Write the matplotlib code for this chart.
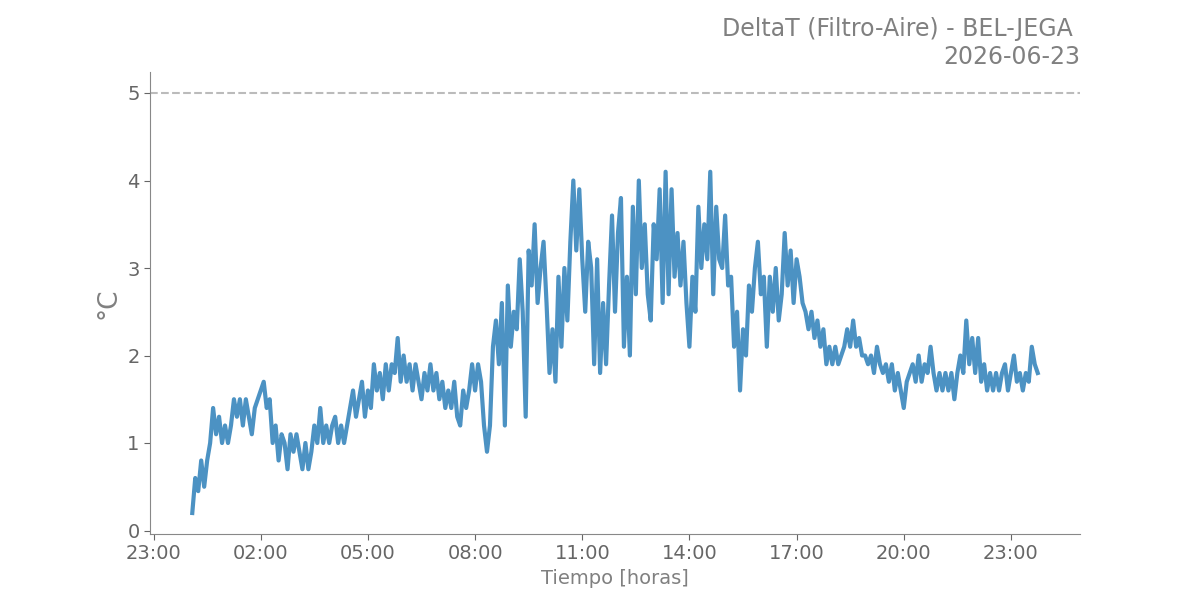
import matplotlib
matplotlib.use("Agg")
import matplotlib.pyplot as plt
import matplotlib.dates as mdates
import numpy as np
import pandas as pd

# 5-minute readings of DeltaT (Filtro-Aire), one row per hour
h00 = [0.2, 0.6, 0.45, 0.8, 0.5, 0.8, 1.0, 1.4, 1.1, 1.3, 1.0]
h01 = [1.2, 1.0, 1.2, 1.5, 1.3, 1.5, 1.2, 1.5, 1.3, 1.1, 1.4, 1.5]
h02 = [1.6, 1.7, 1.4, 1.5, 1.0, 1.2, 0.8, 1.1, 1.0, 0.7, 1.1, 0.9]
h03 = [1.1, 0.9, 0.7, 1.0, 0.7, 0.9, 1.2, 1.0, 1.4, 1.0, 1.2, 1.0]
h04 = [1.2, 1.3, 1.0, 1.2, 1.0, 1.2, 1.4, 1.6, 1.3, 1.5, 1.7, 1.3]
h05 = [1.6, 1.4, 1.9, 1.6, 1.8, 1.5, 1.9, 1.6, 1.9, 1.8, 2.2, 1.7]
h06 = [2.0, 1.7, 1.9, 1.6, 1.9, 1.7, 1.5, 1.8, 1.6, 1.9, 1.6, 1.8]
h07 = [1.5, 1.7, 1.4, 1.6, 1.4, 1.7, 1.3, 1.2, 1.6, 1.4, 1.6, 1.9]
h08 = [1.6, 1.9, 1.7, 1.2, 0.9, 1.2, 2.1, 2.4, 1.9, 2.6, 1.2, 2.8]
h09 = [2.1, 2.5, 2.3, 3.1, 2.5, 1.3, 3.2, 2.8, 3.5, 2.6, 3.0, 3.3]
h10 = [2.6, 1.8, 2.3, 1.7, 2.9, 2.1, 3.0, 2.4, 3.3, 4.0, 3.2, 3.9]
h11 = [3.1, 2.5, 3.3, 3.0, 1.9, 3.1, 1.8, 2.6, 1.9, 2.8, 3.6, 2.5]
h12 = [3.4, 3.8, 2.1, 2.9, 2.0, 3.7, 2.7, 4.0, 3.0, 3.5, 2.7, 2.4]
h13 = [3.5, 3.1, 3.9, 2.6, 4.1, 2.7, 3.9, 2.9, 3.4, 2.8, 3.3, 2.6]
h14 = [2.1, 2.9, 2.5, 3.7, 3.0, 3.5, 3.1, 4.1, 2.7, 3.7, 3.1, 3.0]
h15 = [3.6, 2.8, 2.9, 2.1, 2.5, 1.6, 2.3, 2.0, 2.8, 2.5, 3.0, 3.3]
h16 = [2.7, 2.9, 2.1, 2.9, 2.5, 3.0, 2.4, 2.7, 3.4, 2.8, 3.2, 2.6]
h17 = [3.1, 2.9, 2.6, 2.5, 2.3, 2.5, 2.2, 2.4, 2.1, 2.3, 1.9, 2.1]
h18 = [1.9, 2.1, 1.9, 2.0, 2.1, 2.3, 2.1, 2.4, 2.1, 2.2, 2.0, 2.0]
h19 = [1.9, 2.0, 1.8, 2.1, 1.9, 1.8, 1.9, 1.7, 1.9, 1.6, 1.8, 1.6]
h20 = [1.4, 1.7, 1.8, 1.9, 1.7, 2.0, 1.7, 1.9, 1.8, 2.1, 1.8, 1.6]
h21 = [1.8, 1.6, 1.8, 1.6, 1.8, 1.5, 1.8, 2.0, 1.8, 2.4, 1.9, 2.2]
h22 = [1.8, 2.2, 1.7, 1.9, 1.6, 1.8, 1.6, 1.8, 1.6, 1.8, 1.9, 1.6]
h23 = [1.8, 2.0, 1.7, 1.8, 1.6, 1.8, 1.7, 2.1, 1.9, 1.8]

delta_t = h00 + h01 + h02 + h03 + h04 + h05 + h06 + h07 + h08 + h09 + h10 + h11 \
    + h12 + h13 + h14 + h15 + h16 + h17 + h18 + h19 + h20 + h21 + h22 + h23

fecha = "2026-06-23"
estacion = "BEL-JEGA"
limite = 5

tiempo = pd.date_range(fecha + " 00:05", periods=len(delta_t), freq="5min")

fig = plt.figure(figsize=(12, 6), dpi=100)
ax = fig.add_axes([0.125, 0.11, 0.775, 0.77])

ax.plot(tiempo, delta_t, color="#1f77b4", alpha=0.8, linewidth=3)
ax.axhline(limite, color="#bbbbbb", linestyle="--", linewidth=1.5)

ax.xaxis.set_major_locator(mdates.HourLocator(byhour=range(2, 24, 3)))
ax.xaxis.set_major_formatter(mdates.DateFormatter("%H:%M"))

ax.set_title("DeltaT (Filtro-Aire) - " + estacion + " \n" + fecha,
             loc="right", fontsize=17, color="#808080")
ax.set_ylabel("°C", fontsize=19, color="#808080")
ax.set_xlabel("Tiempo [horas]", fontsize=14, color="#808080")

for s in ["top", "right"]:
    ax.spines[s].set_visible(False)
for s in ["left", "bottom"]:
    ax.spines[s].set_color("#888888")
ax.tick_params(colors="#666666", labelsize=14, length=4)

fig.savefig("out.png")
